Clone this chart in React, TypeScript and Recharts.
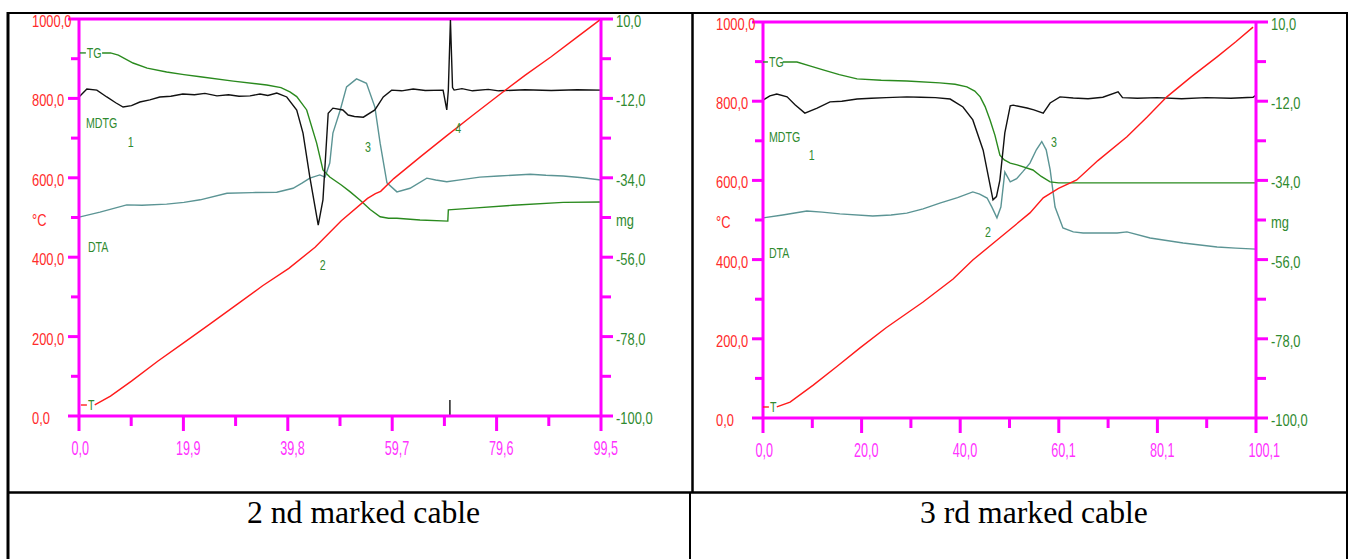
import React from 'react';
import { LineChart, Line, XAxis, YAxis, ReferenceLine, ReferenceDot } from 'recharts';

// ---------- Chart A : 2 nd marked cable ----------
const aTx = [3, 6, 10, 15, 20, 25, 30, 35, 40, 45, 50, 55, 56.5, 57.5, 60, 65, 70, 75, 80, 85, 90, 95, 99.5];
const aT = [28, 50, 88, 138, 185, 232, 280, 328, 372, 425, 492, 548, 560, 566, 598, 652, 705, 757, 808, 858, 905, 955, 1000];

const aTGx = [4.4, 6.0, 7.5, 10.3, 13, 16.7, 20, 23.1, 29.4, 35.8, 38.5, 40.2, 41.5, 43.4, 45.3, 46.5, 47.8, 50, 51.7, 53.6, 55.5, 57.4, 59, 60.6, 65, 70.3, 70.4, 75.1, 82.7, 92.3, 99.5];
const aTG = [0.6, 0.6, 0, -2.2, -3.6, -4.7, -5.4, -6.0, -7.2, -8.3, -9.0, -10.2, -11.5, -15.2, -24.4, -31.8, -33.8, -36.0, -37.9, -40.2, -42.8, -44.8, -45.2, -45.2, -45.7, -46.0, -42.9, -42.4, -41.6, -40.8, -40.7];

const aMDTGx = [0, 1.5, 3.4, 5.3, 7, 8.4, 10, 11.6, 13.5, 15.4, 17.5, 19.8, 22, 24, 26.3, 28.5, 30.5, 32.6, 34.5, 36, 37.7, 39.6, 41.5, 42.7, 44.0, 45.6, 46.5, 47.5, 48.4, 50.3, 51.3, 52.5, 54.2, 56.4, 58, 59.6, 61.5, 63.7, 66, 69.4, 70.1, 70.4, 70.8, 71.2, 71.5, 73, 75, 78, 80, 85, 90, 95, 99.5];
const aMDTG = [-11.6, -9.4, -9.7, -11.6, -13.2, -14.4, -14.0, -13.0, -12.4, -11.6, -11.4, -10.8, -11.0, -10.6, -11.3, -11.0, -11.4, -11.3, -10.8, -11.2, -10.5, -11.6, -15.2, -21.6, -33.8, -47.1, -40.1, -16.1, -14.7, -15.2, -16.6, -17.0, -17.2, -15.2, -11.6, -9.7, -9.9, -9.4, -9.8, -9.7, -15.2, -9.7, 9.7, -9.0, -9.7, -9.3, -9.9, -9.5, -9.9, -9.6, -9.8, -9.6, -9.7];

const aDTAx = [0, 4, 9.1, 12, 16.7, 20, 23.1, 28.2, 33, 37.7, 40.8, 42.5, 44, 45.9, 46.9, 47.8, 48.4, 49.8, 51, 52.9, 54.8, 56.4, 57.4, 58.7, 60.6, 63.1, 66.3, 68, 70.1, 73, 76.4, 80, 86, 89, 92.3, 96, 99.5];
const aDTA = [-44.9, -43.5, -41.5, -41.6, -41.3, -40.8, -40.1, -38.3, -38.1, -38.0, -36.9, -35.5, -34.1, -33.2, -33.8, -29.9, -21.6, -15.2, -8.8, -6.6, -7.8, -14.4, -24.4, -35.4, -37.9, -36.9, -34.1, -34.6, -35.1, -34.5, -33.8, -33.5, -33.0, -33.3, -33.5, -34.0, -34.6];

const aSpikeX = [70.7, 70.7];
const aSpike = [-95.6, -100];

const aXTicks = [0, 9.95, 19.9, 29.85, 39.8, 49.75, 59.7, 69.65, 79.6, 89.55, 99.5];
const aXMajor = [0, 19.9, 39.8, 59.7, 79.6, 99.5];

// annotations: [text, x, value, axis, dashColor]
const aNotes: [string, number, number, string, string | null][] = [
  ['TG', 1.5, 0.6, 'mg', '#2a8a2a'],
  ['MDTG', 1.33, -18.8, 'mg', null],
  ['1', 9.3, -24.1, 'mg', null],
  ['DTA', 1.7, -53.2, 'mg', null],
  ['2', 45.9, -58.2, 'mg', null],
  ['3', 54.5, -25.5, 'mg', null],
  ['4', 71.7, -20.2, 'mg', null],
  ['T', 1.7, 27.7, 't', '#ff2020'],
];

// ---------- Chart B : 3 rd marked cable ----------
const bTx = [2.8, 5.5, 10.2, 15, 19.7, 25, 32.5, 38.6, 42.6, 48.1, 54.2, 56.9, 60, 63.7, 68, 73.9, 78, 82, 87, 92.2, 96, 99.5];
const bT = [28, 40, 83, 130, 177, 228, 293, 351, 399, 455, 518, 556, 580, 601, 650, 710, 760, 811, 862, 912, 950, 987];

const bTGx = [4.0, 6.9, 9.5, 12.2, 15.5, 19.1, 24, 29.2, 35.9, 39, 41.4, 43, 44.1, 45.1, 46.1, 47.1, 48.1, 49, 50.2, 51.6, 54.8, 56.5, 58.3, 60, 65, 70, 80, 90, 100.1];
const bTG = [-1.1, -1.1, -2.2, -3.3, -4.6, -5.8, -6.2, -6.4, -6.9, -7.3, -8.0, -9.2, -10.8, -13.5, -17.2, -21.5, -27.0, -28.3, -29.2, -29.7, -31.1, -32.9, -34.4, -34.7, -34.7, -34.7, -34.7, -34.7, -34.7];

const bMDTGx = [0, 1.4, 2.8, 4.9, 6.5, 8.5, 11, 13.6, 16, 19.1, 22, 25, 29.2, 32, 35, 38, 40.6, 42.6, 44.7, 46.7, 47.4, 48.1, 49.1, 50.2, 50.8, 53.6, 55, 56.9, 58.3, 60.3, 63, 66, 69, 72.1, 73, 76, 80, 85, 90, 95, 99.5, 100.1];
const bMDTG = [-11.7, -10.5, -10.0, -10.8, -13.0, -15.3, -13.9, -12.2, -12.0, -11.4, -11.2, -11.0, -10.8, -10.9, -11.0, -11.4, -13.6, -17.2, -25.6, -39.4, -38.5, -33.9, -20.8, -13.3, -13.1, -13.9, -14.4, -15.3, -12.5, -10.8, -11.1, -11.3, -10.9, -9.4, -11.0, -11.2, -11.0, -11.3, -11.0, -11.2, -10.9, -10.3];

const bDTAx = [0, 4, 8.9, 12, 15.6, 22.3, 26, 29.2, 32.5, 35.9, 39.5, 42.6, 44, 45.5, 46.5, 47.5, 48.3, 49.1, 50.2, 51.5, 52.8, 54.2, 55.5, 56.6, 57.5, 58.3, 59.3, 60.9, 63, 65, 71.9, 73.9, 78.6, 85.3, 92.2, 96, 100.1];
const bDTA = [-44.4, -43.6, -42.5, -42.8, -43.3, -43.9, -43.6, -43.1, -41.9, -40.3, -38.8, -37.2, -37.8, -38.9, -41.5, -44.4, -41.4, -31.7, -34.4, -33.5, -31.5, -29.2, -25.5, -23.2, -25.5, -31.0, -41.4, -47.2, -48.3, -48.6, -48.6, -48.3, -50.0, -51.4, -52.5, -52.8, -53.1];

const bXTicks = [0, 10.01, 20.02, 30.03, 40.04, 50.05, 60.06, 70.07, 80.08, 90.09, 100.1];
const bXMajor = [0, 20.02, 40.04, 60.06, 80.08, 100.1];

const bNotes: [string, number, number, string, string | null][] = [
  ['TG', 1.2, -1.1, 'mg', '#2a8a2a'],
  ['MDTG', 1.2, -21.9, 'mg', null],
  ['1', 9.3, -26.9, 'mg', null],
  ['DTA', 1.2, -54.2, 'mg', null],
  ['2', 45.1, -48.3, 'mg', null],
  ['3', 58.5, -23.3, 'mg', null],
  ['T', 1.4, 27.8, 't', '#ff2020'],
];

// ---------- shared axis ticks ----------
const tTicks = [0, 100, 200, 300, 400, 500, 600, 700, 800, 900, 1000];
const mgTicks = [-100, -89, -78, -67, -56, -45, -34, -23, -12, -1, 10];
const tUnitValue = 500;
const mgUnitValue = -45;

const MAGENTA = '#ff00ff';
const RED_TXT = '#ff2a2a';
const GREEN_TXT = '#2f8a2f';
const FONT = '"Liberation Sans", Arial, sans-serif';

const zip = (xs: number[], vs: number[]) => xs.map((x, i) => ({ x, v: vs[i] }));
const fmt = (v: number) => v.toFixed(1).replace('.', ',');

const LeftTick = (props: any) => {
  const { x, y, payload } = props;
  const v = payload.value;
  const major = v % 200 === 0;
  const label = major ? fmt(v) : v === tUnitValue ? '°C' : '';
  return (
    <g>
      <line x1={x - (major ? 11 : 8)} x2={x} y1={y} y2={y} stroke={MAGENTA} strokeWidth={3} />
      {label && (
        <text transform={`translate(${x - 47},${y + 8}) scale(0.76,1)`} fontSize={17} fill={RED_TXT} fontFamily={FONT}>
          {label}
        </text>
      )}
    </g>
  );
};

const RightTick = (props: any) => {
  const { x, y, payload } = props;
  const v = payload.value;
  const major = (v + 100) % 22 === 0;
  const label = major ? fmt(v) : v === mgUnitValue ? 'mg' : '';
  return (
    <g>
      <line x1={x} x2={x + (major ? 12 : 10)} y1={y} y2={y} stroke={MAGENTA} strokeWidth={3} />
      {label && (
        <text transform={`translate(${x + 15},${y + 8}) scale(0.76,1)`} fontSize={17} fill={GREEN_TXT} fontFamily={FONT}>
          {label}
        </text>
      )}
    </g>
  );
};

const makeXTick = (majors: number[]) => (props: any) => {
  const { x, y, payload } = props;
  const major = majors.includes(payload.value);
  return (
    <g>
      <line x1={x} x2={x} y1={y} y2={y + (major ? 15 : 10)} stroke={MAGENTA} strokeWidth={3} />
      {major && (
        <text transform={`translate(${x - 7.5},${y + 39}) scale(0.63,1)`} fontSize={20} fill="#ff33ff" fontFamily={FONT}>
          {fmt(payload.value)}
        </text>
      )}
    </g>
  );
};

const noteShape = (text: string, dash: string | null) => (p: any) => (
  <g>
    {dash && <line x1={p.cx - 7} x2={p.cx - 1} y1={p.cy} y2={p.cy} stroke={dash} strokeWidth={1.4} />}
    <text transform={`translate(${p.cx},${p.cy + 5}) scale(0.76,1)`} fontSize={14} fill={GREEN_TXT} fontFamily={FONT}>
      {text}
    </text>
  </g>
);

type ChartProps = {
  left: number;
  width: number;
  height: number;
  offL: number;
  offR: number;
  offT: number;
  offB: number;
  xMax: number;
  xTicks: number[];
  xMajor: number[];
  T: { x: number; v: number }[];
  TG: { x: number; v: number }[];
  MDTG: { x: number; v: number }[];
  DTA: { x: number; v: number }[];
  spike?: { x: number; v: number }[];
  notes: [string, number, number, string, string | null][];
};

function ThermoChart(p: ChartProps) {
  return (
    <div style={{ position: 'absolute', left: p.left, top: 0 }}>
      <LineChart width={p.width} height={p.height} margin={{ top: p.offT, left: 0, right: 0, bottom: 0 }}>
        <XAxis
          dataKey="x"
          type="number"
          domain={[0, p.xMax]}
          ticks={p.xTicks}
          interval={0}
          allowDataOverflow
          height={p.offB}
          tickSize={0}
          tickMargin={0}
          tick={makeXTick(p.xMajor)}
          axisLine={{ stroke: MAGENTA, strokeWidth: 3 }}
          tickLine={false}
        />
        <YAxis
          yAxisId="t"
          orientation="left"
          type="number"
          domain={[0, 1000]}
          ticks={tTicks}
          interval={0}
          allowDataOverflow
          width={p.offL}
          tickSize={0}
          tickMargin={0}
          tick={LeftTick}
          axisLine={{ stroke: MAGENTA, strokeWidth: 3 }}
          tickLine={false}
        />
        <YAxis
          yAxisId="mg"
          orientation="right"
          type="number"
          domain={[-100, 10]}
          ticks={mgTicks}
          interval={0}
          allowDataOverflow
          width={p.offR}
          tickSize={0}
          tickMargin={0}
          tick={RightTick}
          axisLine={{ stroke: MAGENTA, strokeWidth: 3 }}
          tickLine={false}
        />
        <ReferenceLine yAxisId="t" y={1000} stroke={MAGENTA} strokeWidth={3} />
        <Line yAxisId="mg" data={p.DTA} dataKey="v" stroke="#5b9494" strokeWidth={1.4} dot={false} isAnimationActive={false} />
        <Line yAxisId="mg" data={p.TG} dataKey="v" stroke="#2a8a1e" strokeWidth={1.4} dot={false} isAnimationActive={false} />
        <Line yAxisId="mg" data={p.MDTG} dataKey="v" stroke="#111111" strokeWidth={1.4} dot={false} isAnimationActive={false} />
        {p.spike && (
          <Line yAxisId="mg" data={p.spike} dataKey="v" stroke="#111111" strokeWidth={1.4} dot={false} isAnimationActive={false} />
        )}
        <Line yAxisId="t" data={p.T} dataKey="v" stroke="#ff1a1a" strokeWidth={1.4} dot={false} isAnimationActive={false} />
        {p.notes.map(([text, x, y, axis, dash], i) => (
          <ReferenceDot key={i} x={x} y={y} yAxisId={axis} r={0} shape={noteShape(text, dash)} />
        ))}
      </LineChart>
    </div>
  );
}

const captions = ['2 nd marked cable', '3 rd marked cable'];

export default function App() {
  return (
    <div style={{ position: 'absolute', left: 0, top: 0, width: 1351, height: 559, background: '#fff', overflow: 'hidden' }}>
      <svg width={1351} height={559} style={{ position: 'absolute', left: 0, top: 0 }}>
        <line x1={7} x2={1348} y1={13} y2={13} stroke="#000" strokeWidth={2} />
        <line x1={8} x2={8} y1={12} y2={559} stroke="#000" strokeWidth={3} />
        <line x1={1347} x2={1347} y1={12} y2={559} stroke="#000" strokeWidth={2} />
        <line x1={692.5} x2={692.5} y1={12} y2={493} stroke="#000" strokeWidth={2.5} />
        <line x1={8} x2={1348} y1={492.5} y2={492.5} stroke="#000" strokeWidth={2.5} />
        <line x1={690} x2={690} y1={492} y2={559} stroke="#000" strokeWidth={2} />
        <text x={247} y={523} fontSize={31.7} fontFamily='"Liberation Serif", "Times New Roman", serif' fill="#000">
          {captions[0]}
        </text>
        <text x={920} y={523} fontSize={31.7} fontFamily='"Liberation Serif", "Times New Roman", serif' fill="#000">
          {captions[1]}
        </text>
      </svg>
      <ThermoChart
        left={0}
        width={692}
        height={490}
        offL={79}
        offR={91}
        offT={19}
        offB={74}
        xMax={99.5}
        xTicks={aXTicks}
        xMajor={aXMajor}
        T={zip(aTx, aT)}
        TG={zip(aTGx, aTG)}
        MDTG={zip(aMDTGx, aMDTG)}
        DTA={zip(aDTAx, aDTA)}
        spike={zip(aSpikeX, aSpike)}
        notes={aNotes}
      />
      <ThermoChart
        left={692}
        width={659}
        height={490}
        offL={71}
        offR={95}
        offT={22}
        offB={72}
        xMax={100.1}
        xTicks={bXTicks}
        xMajor={bXMajor}
        T={zip(bTx, bT)}
        TG={zip(bTGx, bTG)}
        MDTG={zip(bMDTGx, bMDTG)}
        DTA={zip(bDTAx, bDTA)}
        notes={bNotes}
      />
    </div>
  );
}
